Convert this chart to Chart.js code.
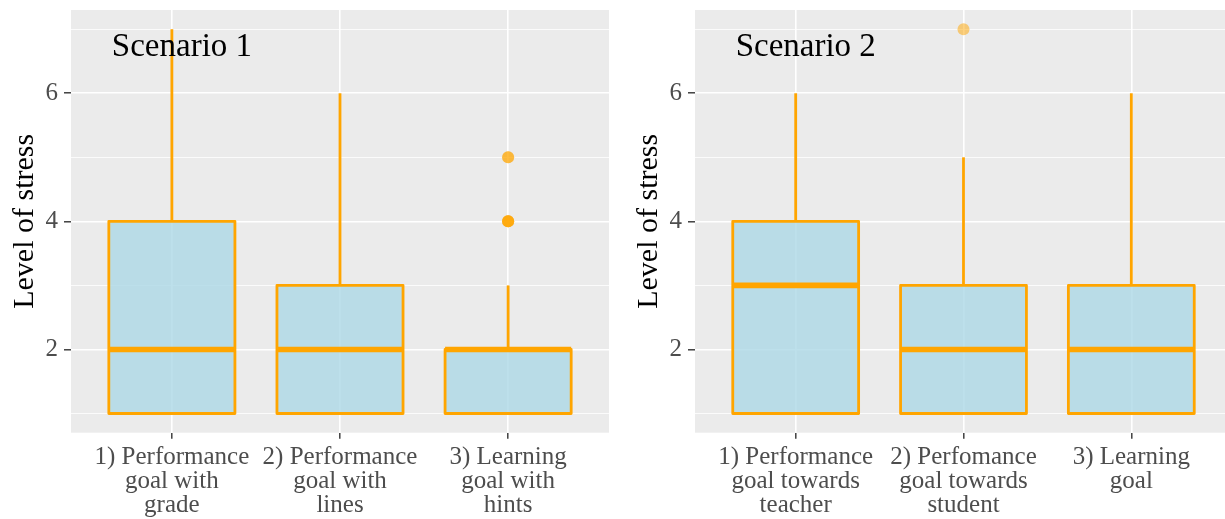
<!DOCTYPE html>
<html>
<head>
<meta charset="utf-8">
<script src="https://cdn.jsdelivr.net/npm/chart.js@4"></script>
<style>
  html, body { margin: 0; padding: 0; background: #ffffff; overflow: hidden; width: 1225px; height: 519px; }
  canvas { position: absolute; top: 0; }
  #panel1 { left: 0; }
  #panel2 { left: 624px; }
</style>
</head>
<body>
<canvas id="panel1" width="609" height="519"></canvas>
<canvas id="panel2" width="608" height="519"></canvas>
<script>
// ---- data -------------------------------------------------------------
const scenario1Categories = [
  ["1) Performance", "goal with", "grade"],
  ["2) Performance", "goal with", "lines"],
  ["3) Learning", "goal with", "hints"]
];
const scenario1Min    = [1, 1, 1];
const scenario1Q1     = [1, 1, 1];
const scenario1Median = [2, 2, 2];
const scenario1Q3     = [4, 3, 2];
const scenario1Max    = [7, 6, 3];
const scenario1Outliers = [[], [], [4, 4, 4, 4, 5, 5]];

const scenario2Categories = [
  ["1) Performance", "goal towards", "teacher"],
  ["2) Perfomance", "goal towards", "student"],
  ["3) Learning", "goal"]
];
const scenario2Min    = [1, 1, 1];
const scenario2Q1     = [1, 1, 1];
const scenario2Median = [3, 2, 2];
const scenario2Q3     = [4, 3, 3];
const scenario2Max    = [6, 5, 6];
const scenario2Outliers = [[], [7], []];

const yTickValues = [1, 2, 3, 4, 5, 6, 7];
const yLabelledTicks = [2, 4, 6];
const yTitle = "Level of stress";

// ---- styling ----------------------------------------------------------
const FONT = "'Liberation Serif', 'Times New Roman', serif";
const ORANGE = "#FFA500";
const BOX_FILL = "rgba(173, 216, 230, 0.8)";
const POINT_FILL = "rgba(255, 165, 0, 0.5)";
const PANEL_BG = "#EBEBEB";

Chart.defaults.font.family = FONT;
Chart.defaults.animation = false;

// grey panel behind the grid
const panelBackground = {
  id: "panelBackground",
  beforeDraw(chart) {
    const { ctx, chartArea: a } = chart;
    ctx.save();
    ctx.fillStyle = PANEL_BG;
    ctx.fillRect(a.left, a.top, a.right - a.left, a.bottom - a.top);
    ctx.restore();
  }
};

// whiskers, boxes and medians, placed through the chart's scales
const boxplotLayer = {
  id: "boxplotLayer",
  afterDatasetsDraw(chart, args, opts) {
    const { ctx } = chart;
    const xs = chart.scales.x, ys = chart.scales.y;
    const step = xs.getPixelForValue(2) - xs.getPixelForValue(1);
    const half = step * 0.375;
    ctx.save();
    opts.median.forEach((med, i) => {
      const cx = xs.getPixelForValue(i + 1);
      const yMin = ys.getPixelForValue(opts.min[i]);
      const yQ1 = ys.getPixelForValue(opts.q1[i]);
      const yMed = ys.getPixelForValue(med);
      const yQ3 = ys.getPixelForValue(opts.q3[i]);
      const yMax = ys.getPixelForValue(opts.max[i]);
      // whiskers
      ctx.strokeStyle = ORANGE;
      ctx.lineWidth = 2.8;
      ctx.lineCap = "butt";
      ctx.beginPath();
      ctx.moveTo(cx, yQ3); ctx.lineTo(cx, yMax);
      ctx.moveTo(cx, yQ1); ctx.lineTo(cx, yMin);
      ctx.stroke();
      // box
      ctx.fillStyle = BOX_FILL;
      ctx.fillRect(cx - half, yQ3, half * 2, yQ1 - yQ3);
      ctx.lineJoin = "round";
      ctx.strokeRect(cx - half, yQ3, half * 2, yQ1 - yQ3);
      // median
      ctx.lineWidth = 5.6;
      ctx.beginPath();
      ctx.moveTo(cx - half, yMed); ctx.lineTo(cx + half, yMed);
      ctx.stroke();
    });
    // panel label
    ctx.fillStyle = "#000000";
    ctx.font = "33px " + FONT;
    ctx.textAlign = "center";
    ctx.textBaseline = "middle";
    ctx.fillText(opts.title, xs.getPixelForValue(opts.titleX), ys.getPixelForValue(opts.titleY));
    ctx.restore();
  }
};

function outlierPoints(outliers) {
  const pts = [];
  outliers.forEach((list, i) => list.forEach(v => pts.push({ x: i + 1, y: v })));
  return pts;
}

function makePanel(id, title, categories, mins, q1s, medians, q3s, maxs, outliers) {
  return new Chart(document.getElementById(id), {
    type: "scatter",
    data: {
      datasets: [{
        data: outlierPoints(outliers),
        pointRadius: 6,
        pointHoverRadius: 6,
        borderWidth: 0,
        backgroundColor: POINT_FILL
      }]
    },
    plugins: [panelBackground, boxplotLayer],
    options: {
      responsive: false,
      devicePixelRatio: 1,
      animation: false,
      events: [],
      layout: { autoPadding: false, padding: { top: 10, right: 0, bottom: 0, left: 0 } },
      plugins: {
        legend: { display: false },
        tooltip: { enabled: false },
        boxplotLayer: {
          title: title, titleX: 1.06, titleY: 6.72,
          min: mins, q1: q1s, median: medians, q3: q3s, max: maxs
        }
      },
      scales: {
        x: {
          type: "linear",
          min: 0.4,
          max: 3.6,
          afterBuildTicks(scale) {
            scale.ticks = categories.map((_, i) => ({ value: i + 1 }));
          },
          afterFit(scale) {
            scale.height = 86.3;
            scale.paddingLeft = 0; scale.paddingRight = 0;
          },
          border: { display: false },
          grid: {
            color: "#FFFFFF",
            lineWidth: 1.6,
            tickLength: 6,
            tickColor: "#333333",
            tickWidth: 1.4
          },
          ticks: {
            autoSkip: false,
            maxRotation: 0,
            minRotation: 0,
            padding: 7,
            color: "#4D4D4D",
            font: { size: 25, lineHeight: 0.96 },
            callback: (value) => categories[Math.round(value) - 1]
          }
        },
        y: {
          type: "linear",
          min: 0.7,
          max: 7.3,
          afterBuildTicks(scale) {
            scale.ticks = yTickValues.map(v => ({ value: v }));
          },
          afterFit(scale) {
            scale.width = 71;
            scale.paddingTop = 0; scale.paddingBottom = 0;
          },
          border: { display: false },
          grid: {
            color: "#FFFFFF",
            lineWidth: (c) => yLabelledTicks.includes(c.tick && c.tick.value) ? 1.6 : 0.8,
            tickLength: 7,
            tickColor: (c) => yLabelledTicks.includes(c.tick && c.tick.value) ? "#333333" : "rgba(0,0,0,0)",
            tickWidth: 1.4
          },
          ticks: {
            padding: 6,
            color: "#4D4D4D",
            font: { size: 25 },
            callback: (value) => yLabelledTicks.includes(value) ? String(value) : ""
          },
          title: {
            display: true,
            text: yTitle,
            color: "#000000",
            font: { size: 30, lineHeight: 1.2 },
            padding: { top: 7, bottom: 0 }
          }
        }
      }
    }
  });
}

makePanel("panel1", "Scenario 1", scenario1Categories,
  scenario1Min, scenario1Q1, scenario1Median, scenario1Q3, scenario1Max, scenario1Outliers);
makePanel("panel2", "Scenario 2", scenario2Categories,
  scenario2Min, scenario2Q1, scenario2Median, scenario2Q3, scenario2Max, scenario2Outliers);
</script>
</body>
</html>
